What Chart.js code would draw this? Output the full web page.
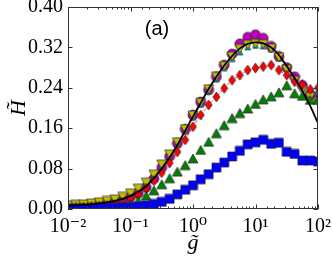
<!DOCTYPE html>
<html><head><meta charset="utf-8">
<script src="https://cdn.jsdelivr.net/npm/chart.js@4"></script>
<style>html,body{margin:0;padding:0;background:#fff}canvas{display:block}</style>
</head><body>
<canvas id="c" width="332" height="258"></canvas>
<script>
// g-tilde values (x), 1/8-decade grid
const gValues = [0.01,0.0133,0.0178,0.0237,0.0316,0.0422,0.0562,0.075,
  0.1,0.133,0.178,0.237,0.316,0.422,0.562,0.75,
  1,1.33,1.78,2.37,3.16,4.22,5.62,7.5,
  10,13.3,17.8,23.7,31.6,42.2,56.2,75,100];

const theoryLine = [0.006,0.007,0.008,0.009,0.011,0.013,0.016,0.020,
  0.026,0.034,0.045,0.061,0.080,0.102,0.127,0.155,
  0.183,0.210,0.238,0.262,0.284,0.303,0.318,0.327,
  0.330,0.328,0.320,0.305,0.283,0.259,0.234,0.204,0.170];

const magentaCircles = [0.004,0.005,0.006,0.007,0.009,0.011,0.014,0.018,
  0.024,0.031,0.043,0.060,0.082,0.104,0.130,0.158,
  0.186,0.212,0.236,0.262,0.285,0.307,0.327,0.340,
  0.345,0.338,0.322,0.302,0.280,0.262,0.245,0.227,0.222];

const cyanMarks = [0.006,0.007,0.008,0.010,0.012,0.015,0.018,0.023,
  0.029,0.038,0.050,0.066,0.085,0.105,0.129,0.155,
  0.182,0.207,0.234,0.258,0.280,0.298,0.311,0.321,
  0.324,0.323,0.316,0.300,0.280,0.260,0.240,0.236,0.232];

const yellowTriangles = [0.007,0.008,0.009,0.011,0.013,0.016,0.019,0.024,
  0.031,0.040,0.052,0.068,0.088,0.108,0.132,0.158,
  0.185,0.210,0.237,0.262,0.283,0.302,0.317,0.325,
  0.327,0.326,0.318,0.300,0.276,0.254,0.236,0.222,0.212];

const redDiamonds = [0.003,0.003,0.004,0.005,0.006,0.007,0.009,0.013,
  0.019,0.028,0.041,0.056,0.072,0.091,0.113,0.137,
  0.163,0.186,0.206,0.222,0.239,0.255,0.265,0.275,
  0.279,0.282,0.285,0.275,0.265,0.252,0.246,0.237,0.240];

const greenTriangles = [0.002,0.002,0.002,0.003,0.003,0.004,0.005,0.007,
  0.010,0.016,0.026,0.037,0.049,0.061,0.074,0.087,
  0.100,0.117,0.133,0.150,0.166,0.180,0.190,0.199,
  0.208,0.217,0.223,0.231,0.245,0.229,0.224,0.216,0.216];

const blueSquares = [0.001,0.001,0.001,0.001,0.002,0.002,0.002,0.003,
  0.004,0.005,0.007,0.010,0.014,0.020,0.029,0.038,
  0.047,0.059,0.069,0.082,0.092,0.104,0.115,0.128,
  0.132,0.137,0.129,0.131,0.113,0.109,0.096,0.096,0.094];

const yTicks = [0.00,0.08,0.16,0.24,0.32,0.40];
const xMajorTicks = [0.01,0.1,1,10,100];
const xTickLabels = ['10⁻²','10⁻¹','10⁰','10¹','10²'];

// marker images
function marker(w, h, fill, pathFn) {
  const c = document.createElement('canvas');
  c.width = w + 2; c.height = h + 2;
  const x = c.getContext('2d');
  x.translate(1, 1);
  x.beginPath(); pathFn(x, w, h); x.closePath();
  x.fillStyle = fill; x.fill();
  x.lineWidth = 0.7; x.strokeStyle = '#222'; x.stroke();
  return c;
}
const triUp = (x,w,h)=>{x.moveTo(w/2,0);x.lineTo(w,h);x.lineTo(0,h);};
const triDown = (x,w,h)=>{x.moveTo(0,0);x.lineTo(w,0);x.lineTo(w/2,h);};
const diamond = (x,w,h)=>{x.moveTo(w/2,0);x.lineTo(w,h/2);x.lineTo(w/2,h);x.lineTo(0,h/2);};
const square = (x,w,h)=>{x.rect(0,0,w,h);};
const circle = (x,w,h)=>{x.arc(w/2,h/2,w/2,0,Math.PI*2);};

const mMag = marker(10,10,'#bf00bf',circle);
const mYel = marker(10,9,'#bfbf00',triDown);
const mCyan = marker(6,6,'#00bfbf',triUp);
const mRed = marker(7,10,'#ff0000',diamond);
const mGreen = marker(10,9,'#008000',triUp);
const mBlue = marker(9,9,'#0000ff',square);

function pts(arr){ return gValues.map((g,i)=>({x:g,y:arr[i]})); }

const framePlugin = {
  id: 'frame',
  afterDatasetsDraw(chart) {
    const {ctx, chartArea:a, scales:{x, y}} = chart;
    ctx.save();
    ctx.strokeStyle = '#333'; ctx.lineWidth = 1;
    ctx.strokeRect(a.left+0.5, a.top+0.5, a.right-a.left-1, a.bottom-a.top-1);
    ctx.beginPath();
    x.ticks.forEach(t => {
      const lg = Math.log10(t.value);
      const major = Math.abs(lg - Math.round(lg)) < 1e-6;
      const len = major ? 4.5 : 2.5;
      const px = Math.round(x.getPixelForValue(t.value)) + 0.5;
      if (px < a.left - 1 || px > a.right + 1) return;
      ctx.moveTo(px, a.bottom); ctx.lineTo(px, a.bottom - len);
      ctx.moveTo(px, a.top); ctx.lineTo(px, a.top + len);
    });
    yTicks.forEach(v => {
      const py = Math.round(y.getPixelForValue(v)) + 0.5;
      ctx.moveTo(a.left, py); ctx.lineTo(a.left + 4.5, py);
      ctx.moveTo(a.right, py); ctx.lineTo(a.right - 4.5, py);
    });
    ctx.stroke();
    ctx.font = '20px "Liberation Sans", Arial, sans-serif';
    ctx.fillStyle = '#000';
    ctx.textAlign = 'center'; ctx.textBaseline = 'middle';
    ctx.fillText('(a)', a.left + (a.right - a.left) * 0.356, a.top + 22);
    ctx.restore();
  }
};

const common = {showLine:false, clip:0, pointRadius:5, pointHoverRadius:5};

new Chart(document.getElementById('c'), {
  type: 'scatter',
  data: { datasets: [
    {label:'theory', data:pts(theoryLine), showLine:true, borderColor:'#000', borderWidth:1.8,
      pointRadius:0, pointHoverRadius:0, tension:0.4, clip:0, order:0},
    {label:'blue', data:pts(blueSquares), ...common, pointStyle:mBlue, order:1},
    {label:'green', data:pts(greenTriangles), ...common, pointStyle:mGreen, order:2},
    {label:'red', data:pts(redDiamonds), ...common, showLine:true, borderColor:'#ff0000',
      borderWidth:0.8, borderDash:[3,2], pointStyle:mRed, order:3},
    {label:'yellow', data:pts(yellowTriangles), ...common, pointStyle:mYel, order:4},
    {label:'cyan', data:pts(cyanMarks), ...common, pointStyle:mCyan, order:5},
    {label:'magenta', data:pts(magentaCircles), ...common, showLine:true, borderColor:'#bf00bf',
      borderWidth:0.8, borderDash:[3,2], pointStyle:mMag, order:6}
  ]},
  options: {
    responsive:false, animation:false, devicePixelRatio:1,
    layout:{padding:{top:7,right:14,left:0,bottom:0}},
    plugins:{legend:{display:false}, tooltip:{enabled:false}},
    scales:{
      x:{type:'logarithmic', min:0.01, max:100,
        grid:{display:false, drawTicks:false}, border:{display:false},
        afterFit(s){ s.height = 49; s.paddingLeft = 0; s.paddingRight = 0; },
        ticks:{autoSkip:false, maxRotation:0, padding:6, color:'#000',
          font:{family:'"Liberation Serif", "DejaVu Serif", serif', size:20},
          callback(v){ const i = xMajorTicks.findIndex(m => Math.abs(m - v) / m < 1e-6); return i >= 0 ? xTickLabels[i] : ''; }},
        title:{display:true, text:'g̃', color:'#000', padding:{top:0,bottom:2},
          font:{family:'"Liberation Serif", "DejaVu Serif", serif', size:22, style:'italic'}}
      },
      y:{min:0, max:0.4,
        grid:{display:false, drawTicks:false}, border:{display:false},
        afterFit(s){ s.width = 68; s.paddingTop = 0; s.paddingBottom = 0; },
        afterBuildTicks(s){ s.ticks = yTicks.map(v => ({value:v})); },
        ticks:{padding:5, color:'#000',
          font:{family:'"Liberation Serif", "DejaVu Serif", serif', size:20},
          callback(v){ return v.toFixed(2); }},
        title:{display:true, text:'H̃', color:'#000', padding:{top:6,bottom:0},
          font:{family:'"Liberation Serif", "DejaVu Serif", serif', size:22, style:'italic'}}
      }
    }
  },
  plugins:[framePlugin]
});
</script>
</body></html>
